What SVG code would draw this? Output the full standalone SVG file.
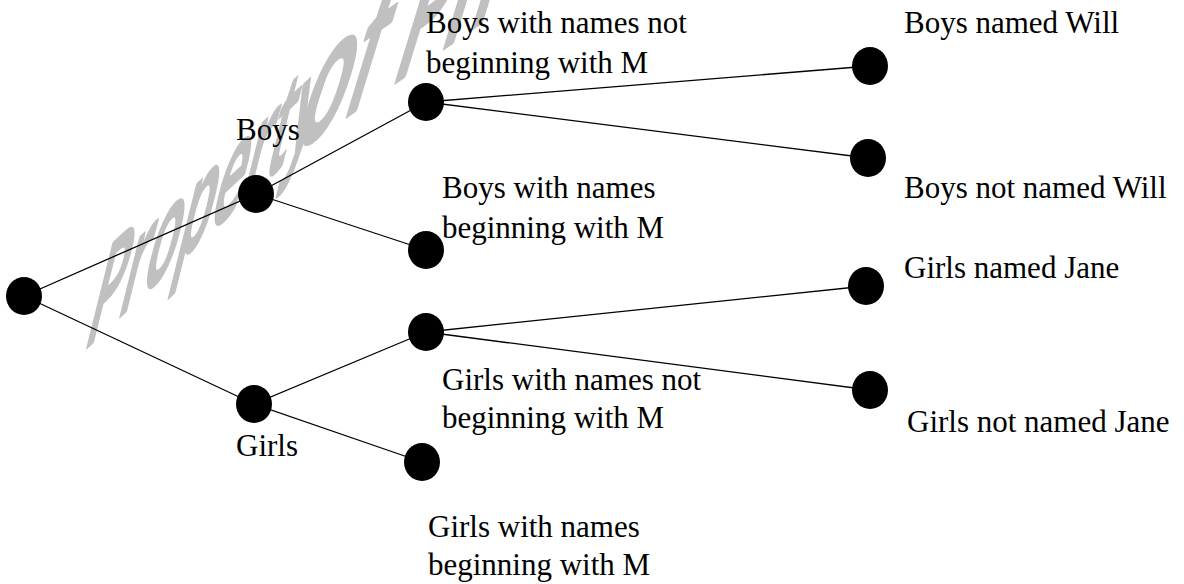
<svg xmlns="http://www.w3.org/2000/svg" width="1184" height="584" viewBox="0 0 1184 584">
<style>
.lbl{font-family:"Liberation Serif","Times New Roman",serif;font-size:31px;fill:#000}
.dot{fill:#000}
.edge{stroke:#000;stroke-width:1.3;fill:none}
.wm{font-family:"Open Sans","Noto Sans",sans-serif;font-size:100px;font-weight:600;fill:#c0c0c0;stroke:#c0c0c0;stroke-width:3;stroke-linejoin:round}
</style>
<rect width="1184" height="584" fill="#fff"/>
<g id="watermark">
<text class="wm" transform="matrix(0.548 -0.511 -0.36 1.45 82 352)">Property</text>
<text class="wm" transform="matrix(0.8 -0.56 -0.55 1.8 290 156)">of Ph</text>
</g>
<g id="connectors">
<line class="edge" x1="24" y1="296" x2="256" y2="194"/>
<line class="edge" x1="24" y1="296" x2="254" y2="404"/>
<line class="edge" x1="256" y1="194" x2="426" y2="102"/>
<line class="edge" x1="256" y1="194" x2="426" y2="250"/>
<line class="edge" x1="426" y1="102" x2="870" y2="66"/>
<line class="edge" x1="426" y1="102" x2="868" y2="158"/>
<line class="edge" x1="254" y1="404" x2="426" y2="332"/>
<line class="edge" x1="254" y1="404" x2="422" y2="462"/>
<line class="edge" x1="426" y1="332" x2="866" y2="286"/>
<line class="edge" x1="426" y1="332" x2="870" y2="390"/>
</g>
<g id="root"><ellipse class="dot" cx="24" cy="296" rx="18" ry="19"/></g>
<g id="boys"><ellipse class="dot" cx="256" cy="194" rx="18" ry="19"/><text class="lbl" x="236" y="140">Boys</text></g>
<g id="girls"><ellipse class="dot" cx="254" cy="404" rx="18" ry="19"/><text class="lbl" x="236" y="456">Girls</text></g>
<g id="boys-not-m"><ellipse class="dot" cx="426" cy="102" rx="18" ry="19"/><text class="lbl" x="426" y="33">Boys with names not</text><text class="lbl" x="426" y="73">beginning with M</text></g>
<g id="boys-m"><ellipse class="dot" cx="426" cy="250" rx="18" ry="19"/><text class="lbl" x="442" y="198">Boys with names</text><text class="lbl" x="442" y="238">beginning with M</text></g>
<g id="girls-not-m"><ellipse class="dot" cx="426" cy="332" rx="18" ry="19"/><text class="lbl" x="442" y="390">Girls with names not</text><text class="lbl" x="442" y="428">beginning with M</text></g>
<g id="girls-m"><ellipse class="dot" cx="422" cy="462" rx="18" ry="19"/><text class="lbl" x="428" y="537">Girls with names</text><text class="lbl" x="428" y="575">beginning with M</text></g>
<g id="boys-will"><ellipse class="dot" cx="870" cy="66" rx="18" ry="19"/><text class="lbl" x="904" y="33">Boys named Will</text></g>
<g id="boys-not-will"><ellipse class="dot" cx="868" cy="158" rx="18" ry="19"/><text class="lbl" x="904" y="198">Boys not named Will</text></g>
<g id="girls-jane"><ellipse class="dot" cx="866" cy="286" rx="18" ry="19"/><text class="lbl" x="904" y="278">Girls named Jane</text></g>
<g id="girls-not-jane"><ellipse class="dot" cx="870" cy="390" rx="18" ry="19"/><text class="lbl" x="907" y="432">Girls not named Jane</text></g>
</svg>
